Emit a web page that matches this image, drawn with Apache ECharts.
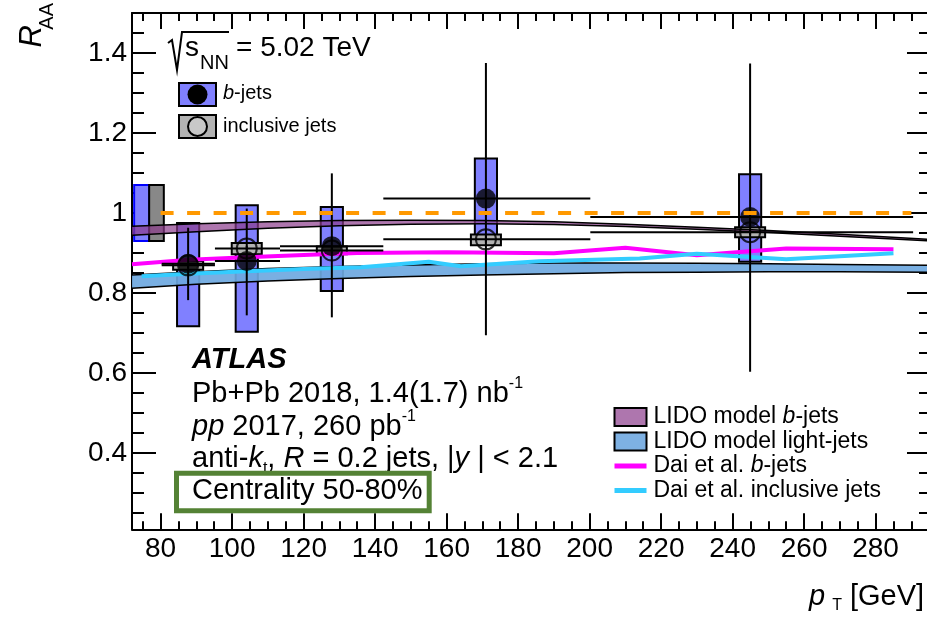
<!DOCTYPE html>
<html>
<head>
<meta charset="utf-8">
<script src="https://cdn.jsdelivr.net/npm/echarts@6/dist/echarts.min.js"></script>
<style>
html, body { margin: 0; padding: 0; background: #fff; }
#main { width: 927px; height: 623px; }
</style>
</head>
<body>
<div id="main"></div>
<script>
// ---- data ----
// b-jets
var bPt     = [87.7, 104.1, 127.9, 171.0, 244.9];
var bRaa    = [0.873, 0.880, 0.917, 1.036, 0.990];
var bStatLo = [0.782, 0.744, 0.739, 0.694, 0.603];
var bStatHi = [0.963, 1.011, 1.099, 1.375, 1.374];
var bSysLo  = [0.717, 0.703, 0.805, 0.944, 0.878];
var bSysHi  = [0.975, 1.019, 1.015, 1.136, 1.097];
var binLo   = [80.3, 95.2, 113.4, 142.3, 200.2];
var binHi   = [95.2, 113.4, 142.3, 200.2, 290.5];
// inclusive jets
var iPt     = [87.7, 104.1, 127.9, 171.0, 244.9];
var iRaa    = [0.869, 0.911, 0.906, 0.934, 0.952];
var iStatLo = [0.862, 0.904, 0.899, 0.926, 0.945];
var iStatHi = [0.876, 0.918, 0.913, 0.942, 0.959];
var iSysLo  = [0.858, 0.897, 0.897, 0.919, 0.939];
var iSysHi  = [0.880, 0.925, 0.916, 0.946, 0.964];
// global normalisation uncertainties (b-jets, inclusive)
var normX0 = [72.6, 76.8];
var normX1 = [76.8, 80.9];
var normLo = [0.930, 0.930];
var normHi = [1.070, 1.070];
// LIDO model bands
var lidoPt  = [72, 90, 110, 130, 150, 170, 190, 210, 230, 250, 270, 295.5];
var lidoBHi = [0.967, 0.973, 0.978, 0.981, 0.982, 0.981, 0.978, 0.972, 0.964, 0.956, 0.947, 0.934];
var lidoBLo = [0.944, 0.953, 0.962, 0.968, 0.972, 0.973, 0.971, 0.966, 0.959, 0.951, 0.942, 0.930];
var lidoLHi = [0.845, 0.853, 0.861, 0.866, 0.870, 0.873, 0.875, 0.875, 0.874, 0.873, 0.871, 0.869];
var lidoLLo = [0.812, 0.822, 0.830, 0.836, 0.841, 0.845, 0.848, 0.851, 0.852, 0.853, 0.853, 0.852];
// Dai et al. curves
var daiBPt  = [72, 88, 104, 120, 135, 160, 190, 210, 230, 255, 285];
var daiB    = [0.872, 0.883, 0.889, 0.895, 0.900, 0.902, 0.899, 0.913, 0.894, 0.911, 0.909];
var daiIPt  = [74.7, 88, 104, 120, 136, 155, 164, 186, 214, 230, 255, 285];
var daiI    = [0.842, 0.848, 0.854, 0.860, 0.864, 0.878, 0.867, 0.879, 0.886, 0.898, 0.884, 0.899];
// unity reference
var refPt = [80, 290];
var refY  = [1, 1];
// axis ranges
var xMin = 72, xMax = 295.5;
var yMin = 0.209, yMax = 1.5;

var FONT = '"Liberation Sans", Arial, Helvetica, sans-serif';
var BLUE = '#8080ff';
var GREY = '#b3b3b3';

var myChart = echarts.init(document.getElementById('main'));

function boxItem(halfW, fill) {
    return function (params, api) {
        var x = api.value(0);
        var p0 = api.coord([x - halfW, api.value(2)]);
        var p1 = api.coord([x + halfW, api.value(1)]);
        return {
            type: 'rect',
            shape: { x: p0[0], y: p0[1], width: p1[0] - p0[0], height: p1[1] - p0[1] },
            style: { fill: fill, stroke: '#000', lineWidth: 2 }
        };
    };
}

var normFill = [BLUE, '#888888'];
var normStroke = ['#0000ff', '#000'];
function normItem(params, api) {
    var p0 = api.coord([api.value(0), api.value(3)]);
    var p1 = api.coord([api.value(1), api.value(2)]);
    return {
        type: 'rect',
        shape: { x: p0[0], y: p0[1], width: p1[0] - p0[0], height: p1[1] - p0[1] },
        style: { fill: normFill[params.dataIndex], stroke: normStroke[params.dataIndex], lineWidth: 2 }
    };
}

function errItem(params, api) {
    var x = api.value(0), y = api.value(1);
    var t = api.coord([x, api.value(3)]);
    var b = api.coord([x, api.value(2)]);
    var l = api.coord([api.value(4), y]);
    var r = api.coord([api.value(5), y]);
    var st = { stroke: '#000', lineWidth: 2 };
    return {
        type: 'group',
        children: [
            { type: 'line', shape: { x1: t[0], y1: t[1], x2: b[0], y2: b[1] }, style: st },
            { type: 'line', shape: { x1: l[0], y1: l[1], x2: r[0], y2: r[1] }, style: st }
        ]
    };
}

// the whole band is drawn by the first item, from all points of the series
function bandItem(fill) {
    return function (params, api) {
        if (params.dataIndex !== 0) return null;
        var n = params.dataInsideLength;
        var up = [], lo = [];
        for (var i = 0; i < n; i++) {
            up.push(api.coord([api.value(0, i), api.value(2, i)]));
            lo.push(api.coord([api.value(0, i), api.value(1, i)]));
        }
        var poly = up.concat(lo.slice().reverse());
        return {
            type: 'group',
            children: [
                { type: 'polygon', shape: { points: poly }, style: { fill: fill, stroke: null } },
                { type: 'polyline', shape: { points: up }, style: { fill: null, stroke: '#000', lineWidth: 1.5 } },
                { type: 'polyline', shape: { points: lo }, style: { fill: null, stroke: '#000', lineWidth: 1.5 } }
            ]
        };
    };
}

function zip() {
    var arrs = arguments;
    return arrs[0].map(function (v, i) {
        var row = [];
        for (var k = 0; k < arrs.length; k++) row.push(arrs[k][i]);
        return row;
    });
}

function xAx(pos, split, len, labels) {
    return {
        type: 'value', position: pos, min: xMin, max: xMax, splitNumber: split,
        axisLine: { show: labels !== null, onZero: false, lineStyle: { color: '#000', width: 2 } },
        axisTick: { show: true, inside: true, length: len, lineStyle: { color: '#000', width: 2 } },
        axisLabel: labels ? {
            show: true, margin: 6, showMinLabel: false, showMaxLabel: false,
            fontFamily: FONT, fontSize: 28, color: '#000'
        } : { show: false },
        splitLine: { show: false }
    };
}
function yAx(pos, split, len, labels) {
    return {
        type: 'value', position: pos, min: yMin, max: yMax, splitNumber: split,
        axisLine: { show: labels !== null, onZero: false, lineStyle: { color: '#000', width: 2 } },
        axisTick: { show: true, inside: true, length: len, lineStyle: { color: '#000', width: 2 } },
        axisLabel: labels ? {
            show: true, margin: 5, showMinLabel: false, showMaxLabel: false,
            fontFamily: FONT, fontSize: 28, color: '#000'
        } : { show: false },
        splitLine: { show: false }
    };
}

var txtRich = {
    n:   { fontFamily: FONT, fontSize: 29, lineHeight: 36, verticalAlign: 'middle', color: '#000' },
    i:   { fontFamily: FONT, fontSize: 29, lineHeight: 36, verticalAlign: 'middle', fontStyle: 'italic', color: '#000' },
    bi:  { fontFamily: FONT, fontSize: 29, lineHeight: 36, verticalAlign: 'middle', fontStyle: 'italic', fontWeight: 'bold', color: '#000' },
    sup: { fontFamily: FONT, fontSize: 16, lineHeight: 16, verticalAlign: 'top', color: '#000' },
    sub: { fontFamily: FONT, fontSize: 16, lineHeight: 16, verticalAlign: 'bottom', color: '#000' }
};
function richText(x, y, text, rich, align) {
    return {
        type: 'text', x: x, y: y, z: 100,
        style: {
            text: text, rich: rich, x: 0, y: 0,
            align: align || 'left', verticalAlign: 'middle',
            textAlign: align || 'left', textVerticalAlign: 'middle',
            fontFamily: FONT, fontSize: 28, fill: '#000'
        }
    };
}
function plainText(x, y, text, size, style, rot) {
    return {
        type: 'text', x: x, y: y, z: 100, rotation: rot || 0,
        style: {
            text: text, x: 0, y: 0,
            align: rot ? 'right' : 'left', verticalAlign: 'middle',
            textAlign: rot ? 'right' : 'left', textVerticalAlign: 'middle',
            font: (style || '') + ' ' + size + 'px ' + FONT, fill: '#000'
        }
    };
}

var legRich = {
    n: { fontFamily: FONT, fontSize: 20, color: '#000' },
    i: { fontFamily: FONT, fontSize: 20, fontStyle: 'italic', color: '#000' }
};

var option = {
    animation: false,
    backgroundColor: '#fff',
    grid: { left: 132, top: 13, width: 799, height: 516.3, outerBoundsMode: 'none', containLabel: false },
    xAxis: [
        xAx('bottom', 11, 16, true),
        xAx('bottom', 45, 8, null),
        xAx('top', 11, 16, false),
        xAx('top', 45, 8, null)
    ],
    yAxis: [
        yAx('left', 6, 24, true),
        yAx('left', 26, 12, null),
        yAx('right', 6, 24, false),
        yAx('right', 26, 12, null)
    ],
    legend: {
        orient: 'vertical', left: 612, top: 405.5, padding: 0,
        itemWidth: 32, itemHeight: 18, itemGap: 1.5, selectedMode: false,
        textStyle: {
            fontFamily: FONT, fontSize: 23, color: '#000', padding: [0, 0, 0, 2],
            rich: {
                i: { fontFamily: FONT, fontSize: 23, fontStyle: 'italic', color: '#000' }
            }
        },
        formatter: function (name) { return name.replace('b-jets', '{i|b}-jets'); },
        data: [
            { name: 'LIDO model b-jets', icon: 'rect', itemStyle: { color: '#ae76ae', borderColor: '#000', borderWidth: 2 } },
            { name: 'LIDO model light-jets', icon: 'rect', itemStyle: { color: '#7eb1e3', borderColor: '#000', borderWidth: 2 } },
            { name: 'Dai et al. b-jets', itemStyle: { opacity: 0, color: 'rgba(0,0,0,0)', borderWidth: 0 },
              lineStyle: { color: '#ff00ff', width: 5 } },
            { name: 'Dai et al. inclusive jets', itemStyle: { opacity: 0, color: 'rgba(0,0,0,0)', borderWidth: 0 },
              lineStyle: { color: '#33ccff', width: 5 } }
        ]
    },
    series: [
        {
            name: 'norm', type: 'custom', renderItem: normItem, silent: true, z: 2,
            encode: { x: [0, 1], y: [2, 3] },
            data: zip(normX0, normX1, normLo, normHi)
        },
        {
            name: 'b-jets sys', type: 'custom', renderItem: boxItem(3.1, BLUE), silent: true, z: 2,
            encode: { x: 0, y: [1, 2] },
            data: zip(bPt, bSysLo, bSysHi)
        },
        {
            name: 'inclusive sys', type: 'custom', renderItem: boxItem(4.2, GREY), silent: true, z: 2,
            encode: { x: 0, y: [1, 2] },
            data: zip(iPt, iSysLo, iSysHi)
        },
        {
            name: 'LIDO model b-jets', type: 'custom', renderItem: bandItem('rgba(140,60,140,0.7)'), silent: true, z: 3,
            itemStyle: { color: '#ae76ae' },
            encode: { x: 0, y: [1, 2] },
            data: zip(lidoPt, lidoBLo, lidoBHi)
        },
        {
            name: 'LIDO model light-jets', type: 'custom', renderItem: bandItem('rgba(110,168,224,0.92)'), silent: true, z: 3,
            itemStyle: { color: '#7eb1e3' },
            encode: { x: 0, y: [1, 2] },
            data: zip(lidoPt, lidoLLo, lidoLHi)
        },
        {
            name: 'Dai et al. b-jets', type: 'line', symbol: 'none', silent: true, z: 4,
            lineStyle: { color: '#ff00ff', width: 4 }, itemStyle: { color: '#ff00ff' },
            data: zip(daiBPt, daiB)
        },
        {
            name: 'Dai et al. inclusive jets', type: 'line', symbol: 'none', silent: true, z: 4,
            lineStyle: { color: '#33ccff', width: 4 }, itemStyle: { color: '#33ccff' },
            data: zip(daiIPt, daiI)
        },
        {
            name: 'inclusive stat', type: 'custom', renderItem: errItem, silent: true, z: 5,
            encode: { x: [0, 4, 5], y: [1, 2, 3] },
            data: zip(iPt, iRaa, iStatLo, iStatHi, binLo, binHi)
        },
        {
            name: 'b-jets stat', type: 'custom', renderItem: errItem, silent: true, z: 5,
            encode: { x: [0, 4, 5], y: [1, 2, 3] },
            data: zip(bPt, bRaa, bStatLo, bStatHi, binLo, binHi)
        },
        {
            name: 'inclusive jets', type: 'scatter', symbol: 'circle', symbolSize: 20, silent: true, z: 6,
            itemStyle: { color: 'rgba(0,0,0,0)', borderColor: '#000', borderWidth: 2 },
            emphasis: { disabled: true },
            data: zip(iPt, iRaa)
        },
        {
            name: 'b-jets', type: 'scatter', symbol: 'circle', symbolSize: 20, silent: true, z: 6,
            itemStyle: { color: '#000' },
            emphasis: { disabled: true },
            data: zip(bPt, bRaa)
        },
        {
            name: 'unity', type: 'line', symbol: 'none', silent: true, z: 7,
            lineStyle: { color: '#ff9900', width: 4, type: [13, 13.5] },
            data: zip(refPt, refY)
        }
    ],
    graphic: [
        // y title
        plainText(47, 3, 'AA', 20, '', Math.PI / 2),
        plainText(32, 25, 'R', 31, 'italic', Math.PI / 2),
        // x title
        richText(809, 597, '{i|p}{sub|T}{n|[GeV]}', {
            i: { fontFamily: FONT, fontSize: 29, lineHeight: 34, verticalAlign: 'middle', fontStyle: 'italic', color: '#000' },
            n: { fontFamily: FONT, fontSize: 29, lineHeight: 34, verticalAlign: 'middle', color: '#000' },
            sub: { fontFamily: FONT, fontSize: 16, lineHeight: 16, verticalAlign: 'bottom', color: '#000', padding: [0, 8, 0, 7] }
        }),
        // sqrt(s_NN)
        {
            type: 'polyline', z: 100,
            shape: { points: [[168, 43], [172, 40], [177, 70], [182, 32], [229, 32]] },
            style: { fill: null, stroke: '#000', lineWidth: 2 }
        },
        plainText(185, 48, 's', 28, ''),
        plainText(200, 63, 'NN', 20, ''),
        plainText(236, 48, '= 5.02 TeV', 28, ''),
        // top-left legend
        { type: 'rect', z: 100, shape: { x: 179, y: 83, width: 37, height: 23 }, style: { fill: BLUE, stroke: '#000', lineWidth: 2 } },
        { type: 'circle', z: 101, shape: { cx: 197.5, cy: 94.5, r: 10 }, style: { fill: '#000' } },
        richText(223, 93, '{i|b}{n|-jets}', legRich),
        { type: 'rect', z: 100, shape: { x: 179, y: 115, width: 37, height: 23 }, style: { fill: GREY, stroke: '#000', lineWidth: 2 } },
        { type: 'circle', z: 101, shape: { cx: 197.5, cy: 126.5, r: 9.5 }, style: { fill: '#c8c8c8', stroke: '#000', lineWidth: 2 } },
        richText(223, 126, '{n|inclusive jets}', legRich),
        // ATLAS labels
        richText(192, 360, '{bi|ATLAS}', txtRich),
        richText(192, 394, '{n|Pb+Pb 2018, 1.4(1.7) nb}{sup|-1}', txtRich),
        richText(192, 427, '{i|pp}{n| 2017, 260 pb}{sup|-1}', txtRich),
        richText(192, 459, '{n|anti-}{i|k}{sub|t}{n|, }{i|R}{n| = 0.2 jets, |}{i|y}{n| | < 2.1}', txtRich),
        richText(192, 491, '{n|Centrality 50-80%}', txtRich),
        { type: 'rect', z: 100, shape: { x: 176.5, y: 473.2, width: 252.7, height: 37.6 }, style: { fill: null, stroke: '#548235', lineWidth: 5 } }
    ]
};

myChart.setOption(option);
</script>
</body>
</html>
